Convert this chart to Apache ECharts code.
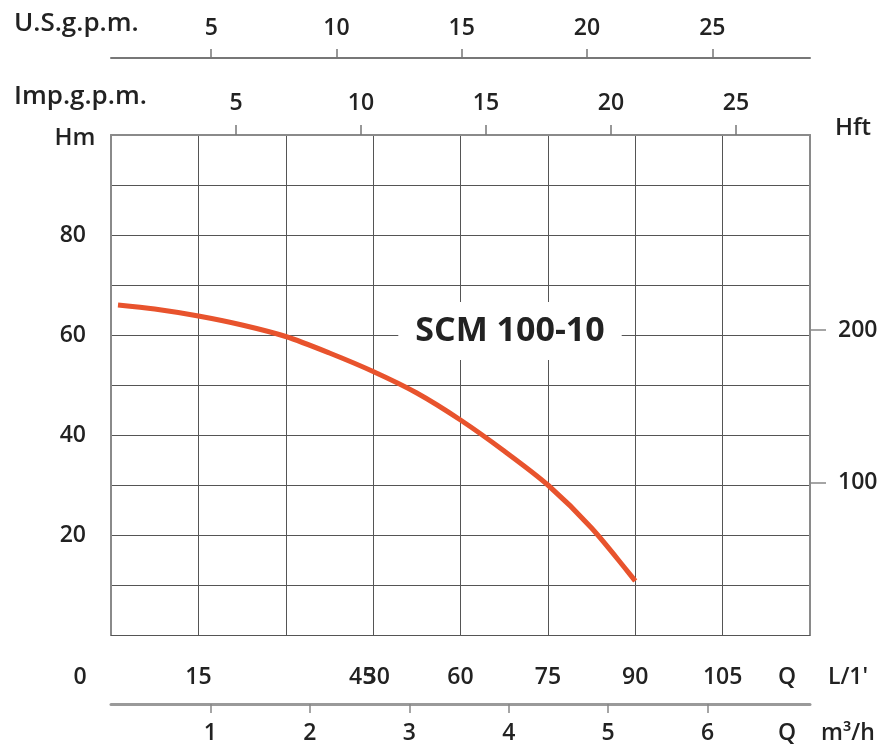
<!DOCTYPE html>
<html>
<head>
<meta charset="utf-8">
<script src="https://cdn.jsdelivr.net/npm/echarts@6/dist/echarts.min.js"></script>
<style>
html,body{margin:0;padding:0;background:#fff;}
#c{width:889px;height:747px;}
</style>
</head>
<body>
<div id="c"></div>
<script>
// ---- data ----
const lpmTicks = [0, 15, 30, 45, 60, 75, 90, 105];
const m3hTicks = [1, 2, 3, 4, 5, 6];
const usGpmTicks = [5, 10, 15, 20, 25];
const impGpmTicks = [5, 10, 15, 20, 25];
const hmTicks = [20, 40, 60, 80];
const hftTicks = [100, 200];
const flowLpm = [1.2, 7.5, 15, 22.5, 30, 37.5, 45, 52.5, 60, 67.5, 75, 82.5, 90];
const headM = [66.0, 65.2, 63.8, 62.0, 59.7, 56.4, 52.7, 48.4, 43.0, 36.8, 30.0, 21.4, 10.8];
const curveName = 'SCM 100-10';

// ---- chart ----
const FONT = '"Open Sans", sans-serif';
const TXT = '#222';
const BORDER = '#8a8a8a';
const GRIDC = '#555';
const FW = 600;

const chart = echarts.init(document.getElementById('c'), null, {renderer: 'canvas'});

const lbl = (extra) => Object.assign({color: TXT, fontSize: 23, fontWeight: FW, fontFamily: FONT}, extra || {});
const rs = (pad) => ({fontSize: 23, fontWeight: FW, fontFamily: FONT, color: TXT, padding: pad});

const option = {
  backgroundColor: '#fff',
  animation: false,
  grid: {left: 111, top: 135, width: 699, height: 500, outerBoundsMode: 'none', containLabel: false},
  xAxis: [
    { // L/min (main, bottom)
      type: 'value', position: 'bottom', min: 0, max: 120, interval: 15,
      axisLine: {show: true, onZero: false, lineStyle: {color: GRIDC, width: 1}},
      axisTick: {show: false},
      splitLine: {show: true, lineStyle: {color: GRIDC, width: 1}},
      axisLabel: lbl({
        margin: 31, showMinLabel: true, showMaxLabel: true,
        customValues: lpmTicks,
        formatter: function (v) {
          if (v === 0) return '{z|0}';
          if (v === 30) return '{r|30}';
          if (v === 45) return '{l|45}';
          return String(v);
        },
        rich: {
          z: rs([0, 62, 0, 0]),
          r: rs([0, 0, 0, 182]),
          l: rs([0, 22, 0, 0])
        }
      })
    },
    { // m3/h (bottom, offset)
      type: 'value', position: 'bottom', offset: 69, min: 0, max: 7.03,
      axisLine: {show: true, onZero: false, lineStyle: {color: '#9a9a9a', width: 3}},
      axisTick: {show: true, customValues: m3hTicks, length: 9, lineStyle: {color: '#888', width: 1.5}},
      splitLine: {show: false},
      axisLabel: lbl({margin: 18, customValues: m3hTicks})
    },
    { // Imp gpm (top, on border)
      type: 'value', position: 'top', offset: 0, min: 0, max: 27.96,
      axisLine: {show: true, onZero: false, lineStyle: {color: BORDER, width: 2}},
      axisTick: {show: true, customValues: impGpmTicks, length: 10, lineStyle: {color: '#777', width: 1.5}},
      splitLine: {show: false},
      axisLabel: lbl({margin: 20, customValues: impGpmTicks})
    },
    { // US gpm (top, offset)
      type: 'value', position: 'top', offset: 77, min: 1.0, max: 28.9,
      axisLine: {show: true, onZero: false, lineStyle: {color: '#777', width: 2}},
      axisTick: {show: true, customValues: usGpmTicks, length: 9, lineStyle: {color: '#777', width: 1.5}},
      splitLine: {show: false},
      axisLabel: lbl({margin: 18, customValues: usGpmTicks})
    }
  ],
  yAxis: [
    { // Hm
      type: 'value', position: 'left', min: 0, max: 100, interval: 10,
      axisLine: {show: true, onZero: false, lineStyle: {color: BORDER, width: 2}},
      axisTick: {show: false},
      splitLine: {show: true, lineStyle: {color: GRIDC, width: 1}},
      axisLabel: lbl({margin: 25, customValues: hmTicks})
    },
    { // Hft
      type: 'value', position: 'right', min: 0, max: 328.084,
      axisLine: {show: true, onZero: false, lineStyle: {color: BORDER, width: 2}},
      axisTick: {show: true, customValues: hftTicks, length: 16, lineStyle: {color: '#888', width: 1.5}},
      splitLine: {show: false},
      axisLabel: lbl({margin: 28, customValues: hftTicks})
    }
  ],
  series: [{
    name: curveName,
    type: 'line',
    xAxisIndex: 0, yAxisIndex: 0,
    data: flowLpm.map((x, i) => [x, headM[i]]),
    smooth: 0.3,
    showSymbol: false,
    z: 5,
    lineStyle: {color: '#e8532d', width: 5, cap: 'butt'}
  }],
  graphic: [
    {type: 'text', left: 14, top: 11, style: {text: 'U.S.g.p.m.', fontSize: 26, fontFamily: FONT, fontWeight: 600, fill: TXT}},
    {type: 'text', left: 14, top: 84, style: {text: 'Imp.g.p.m.', fontSize: 26, fontFamily: FONT, fontWeight: 600, fill: TXT}},
    {type: 'text', x: 75, y: 138, style: {text: 'Hm', fontSize: 24, fontFamily: FONT, fontWeight: 600, fill: TXT, align: 'center', verticalAlign: 'middle'}},
    {type: 'text', x: 853, y: 128, style: {text: 'Hft', fontSize: 24, fontFamily: FONT, fontWeight: 600, fill: TXT, align: 'center', verticalAlign: 'middle'}},
    {type: 'text', x: 787, y: 677, style: {text: 'Q', fontSize: 23, fontFamily: FONT, fontWeight: FW, fill: TXT, align: 'center', verticalAlign: 'middle'}},
    {type: 'text', x: 848, y: 677, style: {text: "L/1'", fontSize: 23, fontFamily: FONT, fontWeight: FW, fill: TXT, align: 'center', verticalAlign: 'middle'}},
    {type: 'text', x: 787, y: 733, style: {text: 'Q', fontSize: 23, fontFamily: FONT, fontWeight: FW, fill: TXT, align: 'center', verticalAlign: 'middle'}},
    {type: 'text', x: 848, y: 733, style: {text: 'm³/h', fontSize: 23, fontFamily: FONT, fontWeight: FW, fill: TXT, align: 'center', verticalAlign: 'middle'}},
    {type: 'text', x: 510, y: 331, z: 10, style: {text: curveName, fontSize: 34, fontFamily: FONT, fontWeight: 'bold', fill: TXT, align: 'center', verticalAlign: 'middle', backgroundColor: '#fff', padding: [12, 17, 12, 17]}}
  ]
};
chart.setOption(option);
</script>
</body>
</html>
